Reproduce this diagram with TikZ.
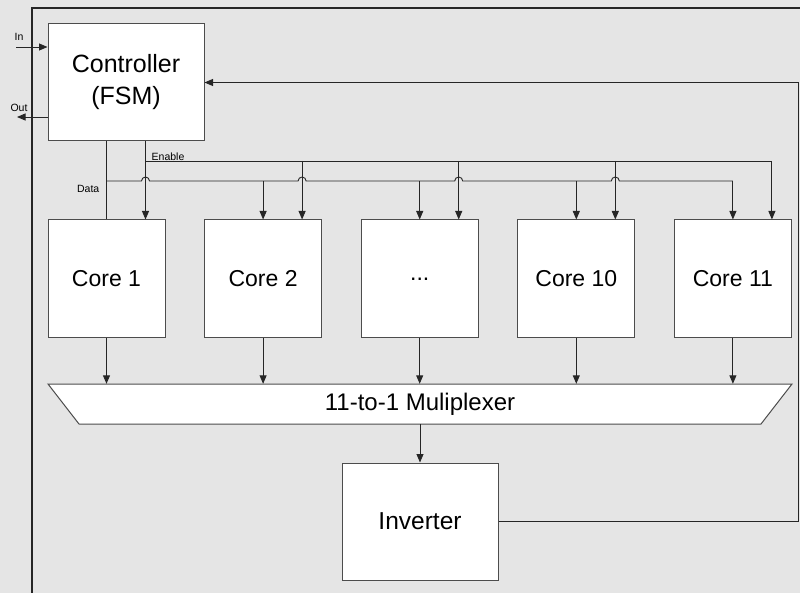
\documentclass[tikz,border=0pt]{standalone}
\usepackage{fontspec}
\setmainfont{Liberation Sans}
\usetikzlibrary{arrows.meta,positioning}

\tikzset{
  block/.style={draw=black!70, fill=white, line width=1pt, inner sep=0pt,
    minimum width=117pt, minimum height=118pt, align=center,
    font=\fontsize{23}{32}\selectfont},
  bigblock/.style={block, minimum width=156pt, minimum height=117pt,
    font=\fontsize{25}{32}\selectfont},
  wire/.style={line width=0.9pt, draw=black!85},
  tag/.style={font=\fontsize{10.5}{12}\selectfont, inner sep=1pt}
}

\begin{document}
\begin{tikzpicture}[x=1pt,y=-1pt,>={Triangle[length=8.5pt,width=7pt]},node distance=156.6pt]
  \fill[black!10] (0,0) rectangle (800,593);
  \useasboundingbox (0,0) rectangle (800,593);
  % outer frame
  \draw[line width=1.5pt, black!85] (32,593) -- (32,8) -- (800,8);

  \node[bigblock] (ctrl) at (126,82.5) {Controller\\(FSM)};
  \node[block] (c1) at (106.5,279) {Core 1};
  \node[block] (c2) [right of=c1] {Core 2};
  \node[block] (c3) [right of=c2] {...};
  \node[block] (c4) [right of=c3] {Core 10};
  \node[block] (c5) [right of=c4] {Core 11};
  % multiplexer
  \filldraw[draw=black!70, fill=white, line width=1pt]
    (48,384) -- (792,384) -- (761,424) -- (79,424) -- cycle;
  \node[minimum width=744pt, minimum height=40pt, inner sep=0pt,
        font=\fontsize{24}{28}\selectfont] (mux) at (420,404) {11-to-1 Muliplexer};
  \node[bigblock, font=\fontsize{24.5}{32}\selectfont] (inv) at (420,521.5) {Inverter};

  \coordinate (ebus) at (0,161);
  \coordinate (dbus) at (0,181);
  \coordinate (fb) at (798,300);
  \coordinate (inpt) at (16,47);
  \coordinate (outpt) at (17,117);
  \foreach \i in {1,...,5}
    \coordinate (e\i) at ([xshift=39pt]c\i.north);

  % in / out
  \draw[wire,->] (inpt) -- (inpt -| ctrl.west);
  \draw[wire,->] (outpt -| ctrl.west) -- (outpt);
  \node[tag] (intag) at (19,37) {In};
  \node[tag] (outtag) at (19,108) {Out};

  % enable lines
  \draw[wire,->] (e1 |- ctrl.south) -- (e1);
  \draw[wire] (e1 |- ebus) -- (e5 |- ebus);
  \foreach \i in {2,...,5}
    \draw[wire,->] (e\i |- ebus) -- (e\i);
  \node[tag, anchor=south west] (entag) at ([xshift=5pt,yshift=-1pt]e1 |- ebus) {Enable};

  % data lines
  \draw[wire] (c1.north |- ctrl.south) -- (c1.north);
  \draw[wire] (c1.north |- dbus)
    \foreach \i in {1,...,4} {
      -- ([xshift=-4pt]e\i |- dbus) arc[start angle=180, end angle=0, radius=4pt]
    }
    -- (c5.north |- dbus);
  \foreach \i in {2,...,5}
    \draw[wire,->] (c\i.north |- dbus) -- (c\i.north);
  \node[tag, anchor=north east] (datatag) at ([xshift=-6pt,yshift=-3pt]c1.north |- dbus) {Data};

  % outputs to mux and feedback
  \foreach \i in {1,...,5}
    \draw[wire,->] (c\i.south) -- (c\i.south |- mux.north);
  \draw[wire,->] (mux.south) -- (inv.north);
  \draw[wire,->] (inv.east) -| (fb) |- (ctrl.east);
\end{tikzpicture}
\end{document}
